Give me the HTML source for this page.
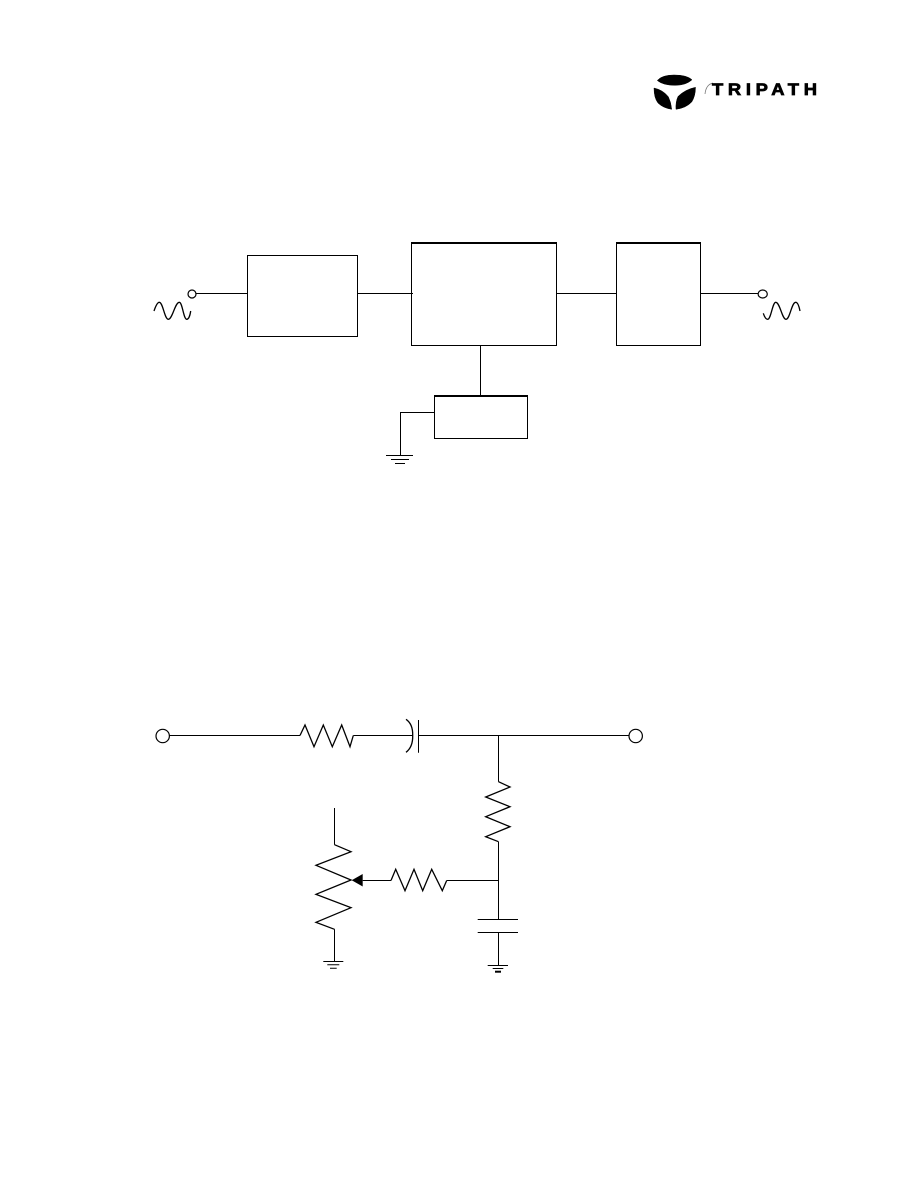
<!DOCTYPE html>
<html>
<head>
<meta charset="utf-8">
<style>
html,body{margin:0;padding:0;background:#fff;}
svg{display:block;position:absolute;left:0;top:0;}
</style>
</head>
<body>
<svg width="918" height="1188" viewBox="0 0 918 1188" xmlns="http://www.w3.org/2000/svg">
<rect width="918" height="1188" fill="#fff"/>
<g fill="#000" stroke="#000" stroke-width="0.5">
  <path d="M657.3,80.5 Q662,75 674,75 Q687,75 692,79.8 Q686,85.3 675,85.3 Q663,85.3 657.3,80.5Z"/>
  <path d="M654,88 Q663,90 668.3,96.7 Q671,102 671.7,109.3 Q663,108 658,103 Q654,98 654,88Z"/>
  <path d="M695.5,87.3 Q685,89.5 678,96.5 Q675.5,102 676,109.3 Q686,108 691.7,102 Q695.5,96 695.5,87.3Z"/>
</g>
<path d="M705,94 Q706,84.5 713,83" fill="none" stroke="#777" stroke-width="0.8"/>
<text transform="translate(712,95) scale(1.15,1.03)" x="0" y="0" font-family="'Liberation Sans',sans-serif" font-weight="bold" font-size="16" textLength="91.3" lengthAdjust="spacing" fill="#000" stroke="#000" stroke-width="0.7">TRIPATH</text>

<g fill="none" stroke="#000" stroke-width="1">
  <!-- Block diagram -->
  <rect x="247.5" y="255.5" width="110" height="81"/>
  <rect x="411.5" y="243.5" width="145" height="102"/>
  <rect x="616.5" y="243.5" width="84" height="102"/>
  <rect x="434.5" y="396.5" width="93" height="42"/>
  <path d="M196,293.5H247.5M357.5,293.5H413M556.5,293.5H616.5M700.5,293.5H758"/>
  <path d="M480.5,345.5V396"/>
  <path d="M434.5,412.5H400.5V455.5"/>
  <path d="M386,455.5H413M391,459.5H409M395,463.5H405"/>
  <circle cx="192" cy="294" r="4" stroke-width="1.2"/>
  <ellipse cx="762.7" cy="294" rx="4.6" ry="4" stroke-width="1.2"/>
  <g stroke-width="1.3">
  <path d="M154,311 C156,305 157.5,302.3 159.3,302.3 C163,302.3 164.5,319.3 168.3,319.3 C172.5,319.3 175,302.3 179.3,302.3 C182.5,302.3 183.5,319.3 186.7,319.3 C188.5,319.3 190,316 190.7,311"/>
  <path d="M763.3,313.3 C764.5,317 766,319.3 767.7,319.3 C771,319.3 772.5,302.3 775.7,302.3 C780,302.3 782,319.3 786,319.3 C790,319.3 791.5,302.3 795.7,302.3 C797.5,302.3 799,306 800,311"/>
  </g>

  <!-- Schematic -->
  <circle cx="162.7" cy="736" r="6.7" stroke-width="1.2"/>
  <circle cx="635.7" cy="736" r="6.7" stroke-width="1.2"/>
  <path d="M169.5,735.5H300"/>
  <path d="M353.3,735.5H413"/>
  <path d="M300,735.5L305,725L314,746.7L323.3,725L332.3,746.7L341.7,725L350,746.7L353.3,735.5" stroke-width="1.3"/>
  <path d="M406,719.3Q413,724 412.7,735.5Q413,747 406,752.3" stroke-width="1.3"/>
  <path d="M418.5,720V752.7"/>
  <path d="M418.5,735.5H629"/>
  <path d="M498.5,735.5V781.7"/>
  <path d="M498.5,781.7L510,787L485.7,797L510,806.7L485.7,816.7L510,826.7L485.7,836.7L498.5,841.7" stroke-width="1.3"/>
  <path d="M498.5,841.7V919.5"/>
  <path d="M477.7,919.5H518M477.7,932.5H518"/>
  <path d="M498.5,932.5V965.5"/>
  <path d="M487.7,965.5H508M492.7,968.5H503.3"/>
  <path d="M495,971.7H501" stroke-width="2"/>
  <path d="M334.5,808V844.7"/>
  <path d="M334.5,844.7L351,851.7L316,865.3L351,880L316,894.3L351,907.7L316,922.3L334.5,929.3" stroke-width="1.3"/>
  <path d="M334.5,929.3V961.5"/>
  <path d="M323.3,961.5H343.3M327.3,964.7H339.3M330,968.3H336.7"/>
  <path d="M362.7,880.5H391"/>
  <path d="M391,880.5L395.7,869.3L405,890.7L414,869.3L422.7,890.7L431.7,869.3L442.3,890.7L446.7,880.5" stroke-width="1.3"/>
  <path d="M446.7,880.5H498.5"/>
</g>
<g fill="#000" stroke="none">
  <rect x="411" y="242" width="146" height="2"/>
  <rect x="616" y="242" width="85" height="2"/>
  <rect x="434" y="395" width="94" height="2"/>
  <path d="M351.7,880.3L362.7,874V886.5Z"/>
</g>
</svg>
</body>
</html>
